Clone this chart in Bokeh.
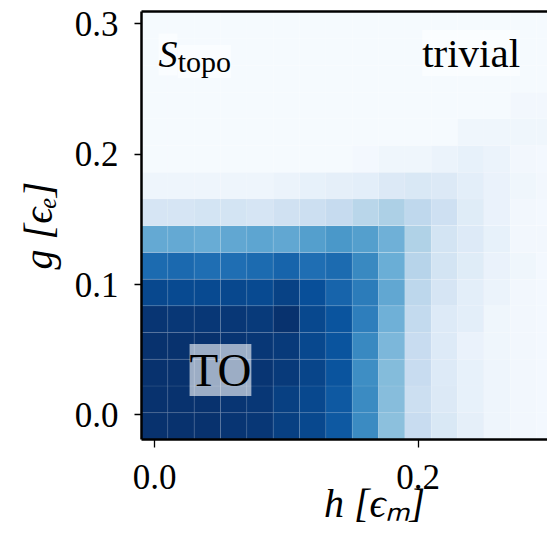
from bokeh.plotting import figure
from bokeh.models import (LinearColorMapper, ColumnDataSource, Label, FixedTicker,
                          PrintfTickFormatter, LinearAxis, Range1d)
from bokeh.palettes import Blues256
from bokeh.embed import file_html
from bokeh.resources import INLINE

# ---- data -------------------------------------------------------------
h_vals = [0.00, 0.02, 0.04, 0.06, 0.08, 0.10, 0.12, 0.14,
          0.16, 0.18, 0.20, 0.22, 0.24, 0.26, 0.28, 0.30]
g_vals = [-0.0084, 0.0120, 0.0325, 0.0530, 0.0735, 0.0939, 0.1144, 0.1349,
          0.1554, 0.1758, 0.1963, 0.2168, 0.2372, 0.2577, 0.2782, 0.2987]

# normalised topological entanglement entropy, one list per g row (bottom -> top)
s_row00 = [0.99, 0.99, 0.99, 0.98, 0.97, 0.94, 0.91, 0.84, 0.65, 0.42, 0.24, 0.15, 0.09, 0.05, 0.03, 0.02]
s_row01 = [0.99, 0.99, 0.99, 0.98, 0.97, 0.94, 0.91, 0.84, 0.65, 0.43, 0.22, 0.14, 0.08, 0.05, 0.03, 0.02]
s_row02 = [0.99, 0.99, 0.99, 0.99, 0.98, 0.96, 0.92, 0.86, 0.64, 0.44, 0.24, 0.13, 0.08, 0.05, 0.03, 0.02]
s_row03 = [0.99, 0.99, 0.99, 0.98, 0.97, 0.96, 0.91, 0.86, 0.66, 0.46, 0.24, 0.13, 0.07, 0.04, 0.03, 0.02]
s_row04 = [0.98, 0.97, 0.97, 0.97, 0.96, 0.99, 0.91, 0.86, 0.70, 0.49, 0.26, 0.13, 0.10, 0.04, 0.03, 0.02]
s_row05 = [0.91, 0.90, 0.90, 0.91, 0.90, 0.93, 0.88, 0.80, 0.71, 0.53, 0.28, 0.17, 0.10, 0.06, 0.03, 0.02]
s_row06 = [0.77, 0.78, 0.76, 0.76, 0.77, 0.80, 0.76, 0.77, 0.66, 0.50, 0.30, 0.18, 0.12, 0.07, 0.04, 0.02]
s_row07 = [0.52, 0.52, 0.51, 0.53, 0.54, 0.53, 0.57, 0.60, 0.57, 0.49, 0.32, 0.18, 0.13, 0.08, 0.03, 0.03]
s_row08 = [0.17, 0.17, 0.18, 0.18, 0.17, 0.20, 0.22, 0.25, 0.29, 0.33, 0.27, 0.21, 0.12, 0.07, 0.03, 0.02]
s_row09 = [0.05, 0.05, 0.05, 0.05, 0.05, 0.06, 0.08, 0.09, 0.10, 0.14, 0.15, 0.14, 0.10, 0.07, 0.04, 0.03]
s_row10 = [0.01, 0.01, 0.01, 0.01, 0.01, 0.01, 0.01, 0.01, 0.02, 0.04, 0.04, 0.06, 0.08, 0.06, 0.03, 0.02]
s_row11 = [0.01, 0.01, 0.01, 0.01, 0.01, 0.01, 0.01, 0.01, 0.01, 0.01, 0.01, 0.01, 0.04, 0.04, 0.04, 0.04]
s_row12 = [0.01, 0.01, 0.01, 0.01, 0.01, 0.01, 0.01, 0.01, 0.01, 0.01, 0.01, 0.01, 0.01, 0.01, 0.03, 0.03]
s_row13 = [0.01, 0.01, 0.01, 0.01, 0.01, 0.01, 0.01, 0.01, 0.01, 0.01, 0.01, 0.01, 0.01, 0.01, 0.01, 0.01]
s_row14 = [0.01, 0.01, 0.01, 0.01, 0.01, 0.01, 0.01, 0.01, 0.01, 0.01, 0.01, 0.01, 0.01, 0.01, 0.01, 0.01]
s_row15 = [0.01, 0.01, 0.01, 0.01, 0.01, 0.01, 0.01, 0.01, 0.01, 0.01, 0.01, 0.01, 0.01, 0.01, 0.01, 0.01]
s_rows = [s_row00, s_row01, s_row02, s_row03, s_row04, s_row05, s_row06, s_row07,
          s_row08, s_row09, s_row10, s_row11, s_row12, s_row13, s_row14, s_row15]

x_ticks = [0.0, 0.2]
y_ticks = [0.0, 0.1, 0.2, 0.3]

# ---- build table ------------------------------------------------------
hs, gs, ss = [], [], []
for gi, row in zip(g_vals, s_rows):
    for hi, si in zip(h_vals, row):
        hs.append(hi)
        gs.append(gi)
        ss.append(si)
src = ColumnDataSource(dict(h=hs, g=gs, s=ss))
dh = h_vals[1] - h_vals[0]
dg = g_vals[1] - g_vals[0]

mapper = LinearColorMapper(palette=list(reversed(Blues256)), low=0.0, high=1.0)

SERIF = "Liberation Serif"

p = figure(width=547, height=537, output_backend="svg", toolbar_location=None,
           x_range=Range1d(-0.01, 0.2983), y_range=Range1d(-0.0188, 0.3093),
           min_border_left=141, min_border_right=0, min_border_top=11, min_border_bottom=98)
p.background_fill_color = "white"
p.border_fill_color = "white"
p.outline_line_color = None
p.grid.visible = False

p.rect(x="h", y="g", width=dh, height=dg, source=src,
       fill_color={"field": "s", "transform": mapper},
       line_color="white", line_alpha=0.08, line_width=1)

# axes
for ax in (p.xaxis[0], p.yaxis[0]):
    ax.axis_line_width = 2.5
    ax.axis_line_color = "black"
    ax.major_tick_line_width = 1.3
    ax.major_tick_in = 0
    ax.minor_tick_line_color = None
    ax.major_label_text_font = SERIF
    ax.major_label_text_font_size = "35px"
    ax.major_label_text_color = "black"
    ax.axis_label_text_font = SERIF
    ax.axis_label_text_font_size = "40px"
    ax.axis_label_text_font_style = "italic"
    ax.axis_label_text_color = "black"
    ax.formatter = PrintfTickFormatter(format="%.1f")

p.xaxis.ticker = FixedTicker(ticks=x_ticks)
p.yaxis.ticker = FixedTicker(ticks=y_ticks)
p.xaxis.major_tick_out = 8
p.yaxis.major_tick_out = 7
p.xaxis.major_label_standoff = 17
p.yaxis.major_label_standoff = 16
# figure spaces shift the centred label right, as in the original wider axes
p.xaxis.axis_label = "\u2007\u2007\u2007h [\u03f5\u2098]"
p.yaxis.axis_label = "g [\u03f5\u2091]"
p.xaxis.axis_label_standoff = -11
p.yaxis.axis_label_standoff = 11

top_axis = LinearAxis(ticker=FixedTicker(ticks=[]), axis_line_width=2.5,
                      axis_line_color="black", major_tick_line_color=None,
                      minor_tick_line_color=None, major_label_text_font_size="0px")
p.add_layout(top_axis, "above")

# annotations (box bottom anchored at y)
common = dict(text_font=SERIF, text_color="black", background_fill_color="white")
p.add_layout(Label(x=0.0029, y=0.2603, text="S", text_font_style="italic",
                   text_font_size="38px", background_fill_alpha=0.5, **common))
p.add_layout(Label(x=0.0175, y=0.2583, text="topo",
                   text_font_size="30px", background_fill_alpha=0.5, **common))
p.add_layout(Label(x=0.2031, y=0.2598, text="trivial",
                   text_font_size="41px", background_fill_alpha=0.5, **common))
p.add_layout(Label(x=0.0265, y=0.0145, text="TO",
                   text_font_size="47px", background_fill_alpha=0.6, **common))

open("out.html", "w").write(file_html(p, INLINE))
